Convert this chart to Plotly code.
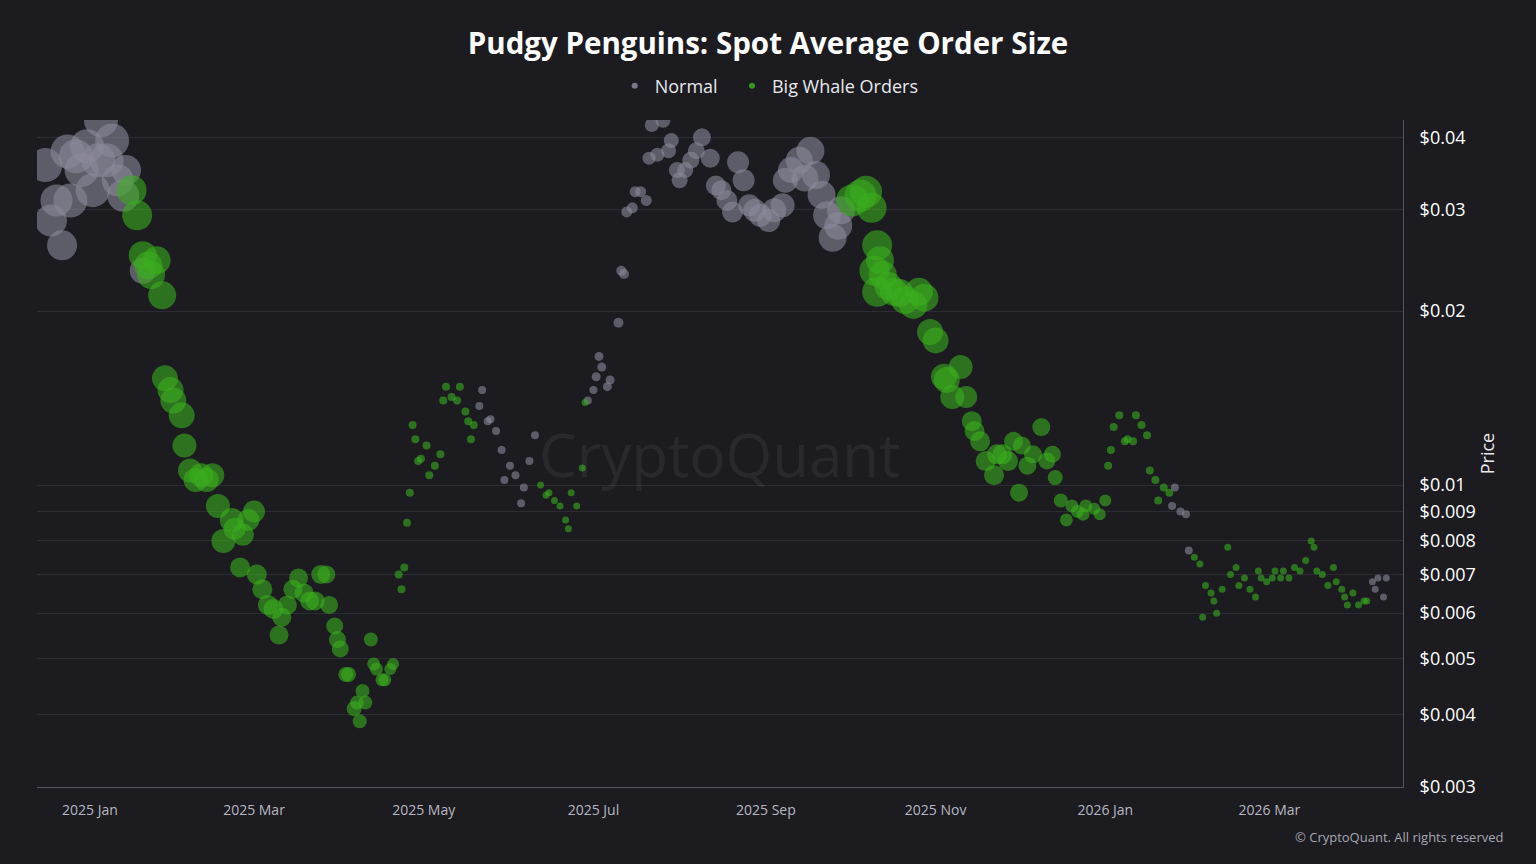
import pandas as pd
import plotly.graph_objects as go

BASE = pd.Timestamp("2025-01-01")

# ---- Normal orders (grey) ----
normal_days = [-16,-14,-12,-10,-8,-7,-5,-3,-1,1,3,4,6,8,10,12,13,19,
               140,141,143,144,146,148,149,151,153,155,156,158,160,
               179,181,182,183,184,186,187,190,191,192,193,195,196,198,200,201,202,204,206,208,209,211,212,214,216,218,220,
               223,225,227,229,231,233,235,237,239,241,244,246,249,250,252,255,257,259,261,263,265,267,269,270,
               389,390,392,394,395,461,462,463,465,466]
normal_price = [0.0358,0.0287,0.0311,0.0260,0.0378,0.0311,0.0371,0.0351,0.0386,0.0324,0.0365,0.0428,0.0365,0.0395,0.0337,0.0317,0.0351,0.0235,
                0.0137,0.0146,0.0129,0.0130,0.0124,0.0115,0.0102,0.0108,0.0104,0.0093,0.0099,0.0110,0.0122,
                0.0140,0.0146,0.0154,0.0167,0.0160,0.0148,0.0152,0.0191,0.0235,0.0232,0.0297,0.0302,0.0322,0.0322,0.0311,0.0368,0.0420,0.0373,0.0428,0.0379,0.0395,0.0351,0.0337,0.0351,0.0365,0.0379,0.0400,
                0.0368,0.0330,0.0324,0.0311,0.0297,0.0362,0.0337,0.0305,0.0299,0.0293,0.0287,0.0299,0.0305,0.0337,0.0351,0.0365,0.0340,0.0379,0.0344,0.0318,0.0293,0.0268,0.0281,0.0299,
                0.0092,0.0099,0.0090,0.0089,0.0077,0.0068,0.0066,0.0069,0.0064,0.0069]
normal_size = [34,32,32,30,34,34,34,34,34,34,34,34,34,34,32,32,30,26,
               8,8,8,8,8,8,8,8,8,8,8,8,8,
               8,8,9,9,9,9,9,10,10,10,11,11,11,11,11,13,14,14,15,15,15,16,16,16,17,17,18,
               19,20,20,21,21,22,22,22,23,23,23,24,24,25,26,27,27,28,28,28,28,28,28,28,
               8,8,8,8,8,7,7,7,7,7]

# ---- Big whale orders (green) ----
whale_days = [15,17,19,21,22,24,26,
              27,29,30,33,34,36,38,40,42,44,46,48,51,52,55,57,59,54,
              60,62,64,66,68,69,71,73,75,77,79,81,83,85,86,88,89,90,
              92,93,95,96,97,98,99,101,102,103,105,106,108,109,
              111,112,113,114,115,116,117,118,119,121,122,124,126,127,128,130,132,133,135,136,137,138,
              162,164,165,167,169,171,172,173,175,177,178,
              274,277,279,281,283,284,282,283,285,287,289,291,293,296,298,300,
              302,304,307,308,310,313,315,317,318,320,322,325,326,328,330,332,334,335,337,339,342,344,346,
              347,349,351,353,355,357,358,361,363,365,
              366,367,368,370,372,373,375,376,378,380,381,383,384,386,388,
              397,399,400,401,403,404,405,407,409,410,412,413,415,417,419,420,421,423,425,426,428,429,431,433,435,437,439,440,441,443,445,447,448,450,451,452,454,456,458,459]
whale_price = [0.0324,0.0293,0.0250,0.0240,0.0231,0.0245,0.0213,
               0.0153,0.0146,0.0140,0.0132,0.0117,0.0106,0.0102,0.0104,0.0102,0.0104,0.0092,0.0080,0.0087,0.0084,0.0082,0.0087,0.0090,0.0072,
               0.0070,0.0066,0.0062,0.0061,0.0055,0.0059,0.0062,0.0066,0.0069,0.0065,0.0063,0.0063,0.0070,0.0070,0.0062,0.0057,0.0054,0.0052,
               0.0047,0.0047,0.0041,0.0042,0.0039,0.0044,0.0042,0.0054,0.0049,0.0048,0.0046,0.0046,0.0048,0.0049,
               0.0070,0.0066,0.0072,0.0086,0.0097,0.0127,0.0120,0.0110,0.0111,0.0117,0.0104,0.0108,0.0113,0.0140,0.0148,0.0142,0.0140,0.0148,0.0134,0.0129,0.0120,0.0127,
               0.0100,0.0096,0.0097,0.0094,0.0092,0.0087,0.0084,0.0097,0.0092,0.0107,0.0139,
               0.0311,0.0317,0.0322,0.0302,0.0260,0.0245,0.0235,0.0216,0.0231,0.0221,0.0216,0.0215,0.0209,0.0205,0.0216,0.0211,
               0.0184,0.0178,0.0154,0.0152,0.0142,0.0160,0.0142,0.0129,0.0124,0.0119,0.0110,0.0104,0.0113,0.0113,0.0110,0.0119,0.0097,0.0117,0.0108,0.0113,0.0126,0.0110,0.0113,
               0.0103,0.0094,0.0087,0.0092,0.0090,0.0089,0.0092,0.0091,0.0089,0.0094,
               0.0108,0.0115,0.0126,0.0132,0.0119,0.0120,0.0119,0.0132,0.0127,0.0122,0.0106,0.0102,0.0094,0.0099,0.0097,
               0.0075,0.0073,0.0059,0.0067,0.0065,0.0063,0.0060,0.0066,0.0078,0.0070,0.0072,0.0067,0.0069,0.0066,0.0064,0.0071,0.0069,0.0068,0.0069,0.0071,0.0069,0.0071,0.0069,0.0072,0.0071,0.0074,0.0080,0.0078,0.0071,0.0070,0.0067,0.0072,0.0068,0.0066,0.0064,0.0062,0.0065,0.0062,0.0063,0.0063]
whale_size = [30,30,28,28,28,28,28,
              26,26,26,26,24,24,24,24,24,24,24,24,24,22,22,22,22,20,
              20,20,20,20,19,19,19,19,19,19,19,19,19,18,18,17,17,17,
              15,15,15,14,14,14,14,14,13,13,13,13,12,12,
              8,8,8,8,8,8,8,8,8,8,8,8,8,8,8,8,8,8,8,8,8,8,
              7,7,7,7,7,7,7,7,7,7,7,
              32,32,32,30,30,28,30,30,28,28,28,28,28,28,28,28,
              26,26,26,26,24,24,22,20,20,20,20,20,20,20,20,19,18,18,18,18,18,17,17,
              15,14,13,13,13,13,13,12,12,12,
              8,8,8,8,8,8,8,8,8,8,8,8,8,8,8,
              7,7,7,7,7,7,7,7,7,7,7,7,7,7,7,7,7,7,7,7,7,7,7,7,7,7,7,7,7,7,7,7,7,7,7,7,7,7,7,7]

y_ticks = [0.003,0.004,0.005,0.006,0.007,0.008,0.009,0.01,0.02,0.03,0.04]
y_tick_text = ["$0.003","$0.004","$0.005","$0.006","$0.007","$0.008","$0.009","$0.01","$0.02","$0.03","$0.04"]
x_ticks = ["2025-01-01","2025-03-01","2025-05-01","2025-07-01","2025-09-01","2025-11-01","2026-01-01","2026-03-01"]
x_tick_text = ["2025 Jan","2025 Mar","2025 May","2025 Jul","2025 Sep","2025 Nov","2026 Jan","2026 Mar"]

GREY = "rgba(140,138,155,0.85)"
GREEN = "rgba(58,175,30,0.85)"

def to_dates(days):
    return [BASE + pd.Timedelta(days=d) for d in days]

fig = go.Figure()
fig.add_trace(go.Scatter(x=to_dates(normal_days), y=normal_price, mode="markers", name="Normal", showlegend=False,
                         marker=dict(size=normal_size, color=GREY, line=dict(width=0))))
fig.add_trace(go.Scatter(x=to_dates(whale_days), y=whale_price, mode="markers", name="Big Whale Orders", showlegend=False,
                         marker=dict(size=whale_size, color=GREEN, line=dict(width=0))))
fig.add_trace(go.Scatter(x=[None], y=[None], mode="markers", name="Normal\u00a0\u00a0",
                         marker=dict(size=6, color=GREY)))
fig.add_trace(go.Scatter(x=[None], y=[None], mode="markers", name="Big Whale Orders",
                         marker=dict(size=6, color=GREEN)))

bg = "#1b1b20"
fig.update_layout(
    width=1536, height=864, paper_bgcolor=bg, plot_bgcolor=bg,
    margin=dict(l=37, r=133, t=120, b=77),
    font=dict(family="Open Sans, Noto Sans, sans-serif", color="#e8e8ec"),
    title=dict(text="<b>Pudgy Penguins: Spot Average Order Size</b>", x=0.5, xanchor="center",
               y=0.949, yanchor="middle", font=dict(size=29.5, color="#ffffff")),
    legend=dict(orientation="h", x=0.536, xanchor="center", y=1.051, yanchor="middle",
                font=dict(size=18, color="#e8e8ec"), itemsizing="trace", bgcolor="rgba(0,0,0,0)"),
    showlegend=True,
    xaxis=dict(type="date", range=["2024-12-13", "2026-04-18"], tickvals=x_ticks, ticktext=x_tick_text,
               showgrid=False, showline=True, linecolor="#555560", ticks="outside", ticklen=10,
               tickcolor="rgba(0,0,0,0)", zeroline=False,
               tickfont=dict(size=14, color="#b8b8c0")),
    yaxis=dict(type="log", side="right", range=[-2.5229, -1.368], tickvals=y_ticks, ticktext=y_tick_text,
               showgrid=True, gridcolor="#2c2c33", showline=True, linecolor="#555560", zeroline=False,
               tickfont=dict(size=18, color="#ffffff"), ticks="outside", ticklen=12,
               tickcolor="rgba(0,0,0,0)",
               title=dict(text="Price", font=dict(size=18, color="#e8e8ec"), standoff=6)),
)
fig.add_annotation(text="CryptoQuant", x=0.5, y=0.5, xref="paper", yref="paper", showarrow=False,
                   font=dict(size=60, color="rgba(255,255,255,0.06)"))
fig.add_annotation(text="© CryptoQuant. All rights reserved", x=1.075, y=-0.075, xref="paper", yref="paper",
                   xanchor="right", yanchor="middle", showarrow=False, font=dict(size=13, color="#a8a8b0"))
fig.write_html("out.html", config={"displayModeBar": False},
               post_script="document.body.style.margin='0';document.body.style.background='#1b1b20';")
